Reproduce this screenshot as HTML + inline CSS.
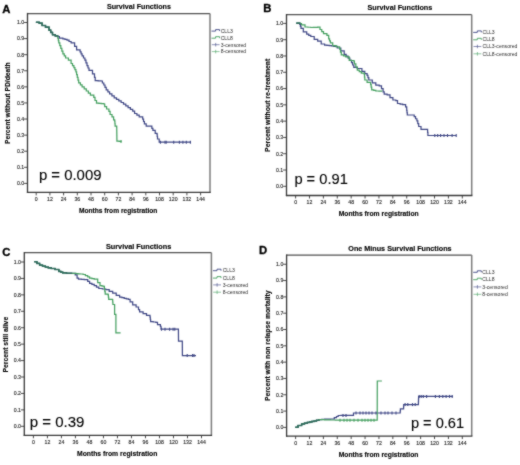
<!DOCTYPE html>
<html><head><meta charset="utf-8"><style>
html,body{margin:0;padding:0;background:#fff;}
svg{display:block;}
.wrap{width:520px;height:465px;}
text{font-family:"Liberation Sans", sans-serif;}
</style></head><body><div class="wrap">
<svg width="520" height="465" viewBox="0 0 520 465">
<defs><filter id="soft" x="0" y="0" width="520" height="465" filterUnits="userSpaceOnUse" color-interpolation-filters="sRGB"><feConvolveMatrix order="3" kernelMatrix="1 2 1 2 16 2 1 2 1" divisor="28" edgeMode="duplicate"/></filter></defs>
<g filter="url(#soft)">
<rect width="520" height="465" fill="#fff"/>
<line x1="27.5" y1="13.5" x2="210" y2="13.5" stroke="#505050" stroke-width="1.25"/>
<line x1="210" y1="13.5" x2="210" y2="192.4" stroke="#7c7c7c" stroke-width="1.5"/>
<line x1="27.5" y1="12.9" x2="27.5" y2="193" stroke="#383838" stroke-width="1.3"/>
<line x1="26.9" y1="192.4" x2="210.7" y2="192.4" stroke="#383838" stroke-width="1.3"/>
<line x1="24.1" y1="183.4" x2="27.5" y2="183.4" stroke="#383838" stroke-width="0.9"/>
<text x="24.2" y="185.3" font-size="5.2" text-anchor="end" fill="#222" stroke="#222" stroke-width="0.12">0.0</text>
<line x1="24.1" y1="167.31" x2="27.5" y2="167.31" stroke="#383838" stroke-width="0.9"/>
<text x="24.2" y="169.21" font-size="5.2" text-anchor="end" fill="#222" stroke="#222" stroke-width="0.12">0.1</text>
<line x1="24.1" y1="151.22" x2="27.5" y2="151.22" stroke="#383838" stroke-width="0.9"/>
<text x="24.2" y="153.12" font-size="5.2" text-anchor="end" fill="#222" stroke="#222" stroke-width="0.12">0.2</text>
<line x1="24.1" y1="135.13" x2="27.5" y2="135.13" stroke="#383838" stroke-width="0.9"/>
<text x="24.2" y="137.03" font-size="5.2" text-anchor="end" fill="#222" stroke="#222" stroke-width="0.12">0.3</text>
<line x1="24.1" y1="119.04" x2="27.5" y2="119.04" stroke="#383838" stroke-width="0.9"/>
<text x="24.2" y="120.94" font-size="5.2" text-anchor="end" fill="#222" stroke="#222" stroke-width="0.12">0.4</text>
<line x1="24.1" y1="102.95" x2="27.5" y2="102.95" stroke="#383838" stroke-width="0.9"/>
<text x="24.2" y="104.85" font-size="5.2" text-anchor="end" fill="#222" stroke="#222" stroke-width="0.12">0.5</text>
<line x1="24.1" y1="86.86" x2="27.5" y2="86.86" stroke="#383838" stroke-width="0.9"/>
<text x="24.2" y="88.76" font-size="5.2" text-anchor="end" fill="#222" stroke="#222" stroke-width="0.12">0.6</text>
<line x1="24.1" y1="70.77" x2="27.5" y2="70.77" stroke="#383838" stroke-width="0.9"/>
<text x="24.2" y="72.67" font-size="5.2" text-anchor="end" fill="#222" stroke="#222" stroke-width="0.12">0.7</text>
<line x1="24.1" y1="54.68" x2="27.5" y2="54.68" stroke="#383838" stroke-width="0.9"/>
<text x="24.2" y="56.58" font-size="5.2" text-anchor="end" fill="#222" stroke="#222" stroke-width="0.12">0.8</text>
<line x1="24.1" y1="38.59" x2="27.5" y2="38.59" stroke="#383838" stroke-width="0.9"/>
<text x="24.2" y="40.49" font-size="5.2" text-anchor="end" fill="#222" stroke="#222" stroke-width="0.12">0.9</text>
<line x1="24.1" y1="22.5" x2="27.5" y2="22.5" stroke="#383838" stroke-width="0.9"/>
<text x="24.2" y="24.4" font-size="5.2" text-anchor="end" fill="#222" stroke="#222" stroke-width="0.12">1.0</text>
<line x1="36.2" y1="192.4" x2="36.2" y2="195.4" stroke="#383838" stroke-width="0.9"/>
<text x="36.2" y="200.7" font-size="5.2" text-anchor="middle" fill="#222" stroke="#222" stroke-width="0.12">0</text>
<line x1="49.9" y1="192.4" x2="49.9" y2="195.4" stroke="#383838" stroke-width="0.9"/>
<text x="49.9" y="200.7" font-size="5.2" text-anchor="middle" fill="#222" stroke="#222" stroke-width="0.12">12</text>
<line x1="63.6" y1="192.4" x2="63.6" y2="195.4" stroke="#383838" stroke-width="0.9"/>
<text x="63.6" y="200.7" font-size="5.2" text-anchor="middle" fill="#222" stroke="#222" stroke-width="0.12">24</text>
<line x1="77.3" y1="192.4" x2="77.3" y2="195.4" stroke="#383838" stroke-width="0.9"/>
<text x="77.3" y="200.7" font-size="5.2" text-anchor="middle" fill="#222" stroke="#222" stroke-width="0.12">36</text>
<line x1="91" y1="192.4" x2="91" y2="195.4" stroke="#383838" stroke-width="0.9"/>
<text x="91" y="200.7" font-size="5.2" text-anchor="middle" fill="#222" stroke="#222" stroke-width="0.12">48</text>
<line x1="104.7" y1="192.4" x2="104.7" y2="195.4" stroke="#383838" stroke-width="0.9"/>
<text x="104.7" y="200.7" font-size="5.2" text-anchor="middle" fill="#222" stroke="#222" stroke-width="0.12">60</text>
<line x1="118.4" y1="192.4" x2="118.4" y2="195.4" stroke="#383838" stroke-width="0.9"/>
<text x="118.4" y="200.7" font-size="5.2" text-anchor="middle" fill="#222" stroke="#222" stroke-width="0.12">72</text>
<line x1="132.1" y1="192.4" x2="132.1" y2="195.4" stroke="#383838" stroke-width="0.9"/>
<text x="132.1" y="200.7" font-size="5.2" text-anchor="middle" fill="#222" stroke="#222" stroke-width="0.12">84</text>
<line x1="145.8" y1="192.4" x2="145.8" y2="195.4" stroke="#383838" stroke-width="0.9"/>
<text x="145.8" y="200.7" font-size="5.2" text-anchor="middle" fill="#222" stroke="#222" stroke-width="0.12">96</text>
<line x1="159.5" y1="192.4" x2="159.5" y2="195.4" stroke="#383838" stroke-width="0.9"/>
<text x="159.5" y="200.7" font-size="5.2" text-anchor="middle" fill="#222" stroke="#222" stroke-width="0.12">108</text>
<line x1="173.2" y1="192.4" x2="173.2" y2="195.4" stroke="#383838" stroke-width="0.9"/>
<text x="173.2" y="200.7" font-size="5.2" text-anchor="middle" fill="#222" stroke="#222" stroke-width="0.12">120</text>
<line x1="186.9" y1="192.4" x2="186.9" y2="195.4" stroke="#383838" stroke-width="0.9"/>
<text x="186.9" y="200.7" font-size="5.2" text-anchor="middle" fill="#222" stroke="#222" stroke-width="0.12">132</text>
<line x1="200.6" y1="192.4" x2="200.6" y2="195.4" stroke="#383838" stroke-width="0.9"/>
<text x="200.6" y="200.7" font-size="5.2" text-anchor="middle" fill="#222" stroke="#222" stroke-width="0.12">144</text>
<text x="2.2" y="12.5" font-size="11.3" font-weight="bold" fill="#000" stroke="#000" stroke-width="0.3">A</text>
<text x="106.9" y="9" font-size="7" font-weight="bold" fill="#000" stroke="#000" stroke-width="0.12" textLength="64" lengthAdjust="spacingAndGlyphs">Survival Functions</text>
<text transform="translate(10.4 144) rotate(-90)" font-size="6.8" font-weight="bold" fill="#000" stroke="#000" stroke-width="0.12" textLength="81.6" lengthAdjust="spacingAndGlyphs">Percent without PD/death</text>
<text x="78.9" y="212.7" font-size="6.8" font-weight="bold" fill="#000" stroke="#000" stroke-width="0.12" textLength="78.5" lengthAdjust="spacingAndGlyphs">Months from registration</text>
<text x="38.9" y="180" font-size="15" fill="#000" stroke="#000" stroke-width="0.12" textLength="62.6" lengthAdjust="spacingAndGlyphs">p = 0.009</text>
<path d="M211.5 31.1 H215.6 V29.6 H219.6 V31.1" fill="none" stroke="#3f4785" stroke-width="0.9"/>
<text x="220.7" y="32.5" font-size="5.1" fill="#2a2a2a">CLL3</text>
<path d="M211.5 38.2 H215.6 V36.7 H219.6 V38.2" fill="none" stroke="#45a060" stroke-width="0.9"/>
<text x="220.7" y="39.6" font-size="5.1" fill="#2a2a2a">CLL8</text>
<line x1="211.8" y1="44.7" x2="219.6" y2="44.7" stroke="#3f4785" stroke-width="0.6"/>
<line x1="215.7" y1="42.9" x2="215.7" y2="46.5" stroke="#3f4785" stroke-width="0.6"/>
<text x="220.7" y="46.5" font-size="5.1" fill="#2a2a2a">3-censored</text>
<line x1="211.8" y1="51.6" x2="219.6" y2="51.6" stroke="#45a060" stroke-width="0.6"/>
<line x1="215.7" y1="49.8" x2="215.7" y2="53.4" stroke="#45a060" stroke-width="0.6"/>
<text x="220.7" y="53.4" font-size="5.1" fill="#2a2a2a">8-censored</text>
<path d="M35.9 22.3 L39.2 22.3 L39.2 23.2 L42.1 23.2 L42.1 25.5 L45.5 25.5 L45.5 27.2 L49 27.2 L49 30.1 L50.7 30.1 L50.7 32.4 L52.5 32.4 L52.5 34.7 L55.3 34.7 L55.3 35.9 L57.7 35.9 L57.7 36.6 L59.4 36.6 L59.4 38.2 L62.9 38.2 L62.9 38.8 L64.95 38.8 L64.95 39.45 L67 39.45 L67 40.1 L69.05 40.1 L69.05 41.5 L71.1 41.5 L71.1 42.9 L74.6 42.9 L74.6 46.3 L76.6 46.3 L76.6 49.8 L80.1 49.8 L80.1 51.8 L81.1 51.8 L81.1 53.85 L82.1 53.85 L82.1 55.9 L83.5 55.9 L83.5 58 L84.9 58 L84.9 60.1 L85.95 60.1 L85.95 62.85 L87 62.85 L87 65.6 L88 65.6 L88 68 L89 68 L89 70.4 L92.5 70.4 L92.5 73.8 L94.5 73.8 L94.5 77.3 L95.2 77.3 L95.2 80.7 L98.1 80.7 L98.1 80.85 L101 80.85 L101 81 L102.4 81 L102.4 83 L103.8 83 L103.8 85 L105 85 L105 87.4 L106.2 87.4 L106.2 89.8 L107.9 89.8 L107.9 91.8 L109.6 91.8 L109.6 93.8 L111.9 93.8 L111.9 95.85 L114.2 95.85 L114.2 97.9 L116.5 97.9 L116.5 99.35 L118.8 99.35 L118.8 100.8 L121.15 100.8 L121.15 102.5 L123.5 102.5 L123.5 104.2 L125.8 104.2 L125.8 105.95 L128.1 105.95 L128.1 107.7 L130.4 107.7 L130.4 109.45 L132.7 109.45 L132.7 111.2 L134.6 111.2 L134.6 113.5 L136.9 113.5 L136.9 115.2 L139.2 115.2 L139.2 116.9 L142.7 116.9 L142.7 119.2 L143.55 119.2 L143.55 121.5 L144.4 121.5 L144.4 123.8 L146.2 123.8 L146.2 126.2 L150.8 126.2 L151.85 126.2 L151.85 128.3 L152.9 128.3 L152.9 130.4 L155.2 130.4 L155.2 133.3 L156.9 133.3 L156.9 133.8 L157.2 133.8 L157.2 136.4 L157.5 136.4 L157.5 139 L159.2 139 L159.2 142.2 L191 142.2" fill="none" stroke="#3f4785" stroke-width="1.22" stroke-linejoin="miter"/>
<path d="M35.9 22.3 L39.2 22.3 L39.2 23.2 L42.1 23.2 L42.1 25.5 L45.5 25.5 L45.5 27.2 L49 27.2 L49 30.1 L50.7 30.1 L50.7 32.4 L52.5 32.4 L52.5 34.7 L55.3 34.7 L55.3 35.9 L57.7 35.9 L57.7 36.6 L57.9 36.6 L57.9 38.5 L58.35 38.5 L58.35 40.7 L58.8 40.7 L58.8 42.9 L59.8 42.9 L59.8 45.65 L60.8 45.65 L60.8 48.4 L61.85 48.4 L61.85 51.15 L62.9 51.15 L62.9 53.9 L64.25 53.9 L64.25 55.95 L65.6 55.95 L65.6 58 L68.4 58 L68.4 60.1 L71.1 60.1 L71.1 63.5 L72.5 63.5 L72.5 65.55 L73.9 65.55 L73.9 67.6 L74.9 67.6 L74.9 69.7 L75.9 69.7 L75.9 71.8 L76.6 71.8 L76.6 74.55 L77.3 74.55 L77.3 77.3 L78 77.3 L78 80.05 L78.7 80.05 L78.7 82.8 L80.4 82.8 L80.4 84.85 L82.1 84.85 L82.1 86.9 L84.2 86.9 L84.2 88.95 L86.3 88.95 L86.3 91 L88.35 91 L88.35 93.05 L90.4 93.05 L90.4 95.1 L93.8 95.1 L93.8 97.4 L95 97.4 L95 100.5 L96.5 100.5 L96.5 103.2 L98.85 103.2 L98.85 103.4 L101.2 103.4 L101.2 103.6 L103.9 103.6 L103.9 104 L104.7 104 L104.7 106.7 L106.6 106.7 L106.6 109 L108.9 109 L108.9 111.4 L110.1 111.4 L110.1 114.5 L112 114.5 L112 116.8 L113.6 116.8 L113.6 119.9 L114.7 119.9 L114.7 121.1 L114.9 121.1 L114.9 123.6 L115.1 123.6 L115.1 126.1 L116.7 126.1 L116.7 127.3 L116.74 127.3 L116.74 130.08 L116.78 130.08 L116.78 132.86 L116.82 132.86 L116.82 135.64 L116.86 135.64 L116.86 138.42 L116.9 138.42 L116.9 141.2 L119.1 141.2 L119.1 141.3 L121.3 141.3 L121.3 141.4" fill="none" stroke="#45a060" stroke-width="1.22" stroke-linejoin="miter"/>
<path d="M35.9 22.3 L39.2 22.3 L39.2 23.2 L42.1 23.2 L42.1 25.5 L45.5 25.5 L45.5 27.2 L49 27.2 L49 30.1 L50.7 30.1 L50.7 32.4 L52.5 32.4 L52.5 34.7 L55.3 34.7 L55.3 35.9 L57.7 35.9 L57.7 36.6" fill="none" stroke="#2f6a5c" stroke-width="1.45" stroke-linejoin="miter"/>
<line x1="160.4" y1="140.7" x2="160.4" y2="143.7" stroke="#3f4785" stroke-width="1.1"/>
<line x1="165" y1="140.7" x2="165" y2="143.7" stroke="#3f4785" stroke-width="1.1"/>
<line x1="166.2" y1="140.7" x2="166.2" y2="143.7" stroke="#3f4785" stroke-width="1.1"/>
<line x1="173.7" y1="140.7" x2="173.7" y2="143.7" stroke="#3f4785" stroke-width="1.1"/>
<line x1="179.4" y1="140.7" x2="179.4" y2="143.7" stroke="#3f4785" stroke-width="1.1"/>
<line x1="182.9" y1="140.7" x2="182.9" y2="143.7" stroke="#3f4785" stroke-width="1.1"/>
<line x1="186.3" y1="140.7" x2="186.3" y2="143.7" stroke="#3f4785" stroke-width="1.1"/>
<line x1="190.4" y1="140.7" x2="190.4" y2="143.7" stroke="#3f4785" stroke-width="1.1"/>
<line x1="121" y1="139.9" x2="121" y2="142.9" stroke="#45a060" stroke-width="1.1"/>
<line x1="286.5" y1="14.6" x2="471.7" y2="14.6" stroke="#505050" stroke-width="1.25"/>
<line x1="471.7" y1="14.6" x2="471.7" y2="195.5" stroke="#7c7c7c" stroke-width="1.5"/>
<line x1="286.5" y1="14" x2="286.5" y2="196.1" stroke="#383838" stroke-width="1.3"/>
<line x1="285.9" y1="195.5" x2="472.4" y2="195.5" stroke="#383838" stroke-width="1.3"/>
<line x1="283.1" y1="186.3" x2="286.5" y2="186.3" stroke="#383838" stroke-width="0.9"/>
<text x="283.2" y="188.2" font-size="5.2" text-anchor="end" fill="#222" stroke="#222" stroke-width="0.12">0.0</text>
<line x1="283.1" y1="170.01" x2="286.5" y2="170.01" stroke="#383838" stroke-width="0.9"/>
<text x="283.2" y="171.91" font-size="5.2" text-anchor="end" fill="#222" stroke="#222" stroke-width="0.12">0.1</text>
<line x1="283.1" y1="153.72" x2="286.5" y2="153.72" stroke="#383838" stroke-width="0.9"/>
<text x="283.2" y="155.62" font-size="5.2" text-anchor="end" fill="#222" stroke="#222" stroke-width="0.12">0.2</text>
<line x1="283.1" y1="137.43" x2="286.5" y2="137.43" stroke="#383838" stroke-width="0.9"/>
<text x="283.2" y="139.33" font-size="5.2" text-anchor="end" fill="#222" stroke="#222" stroke-width="0.12">0.3</text>
<line x1="283.1" y1="121.14" x2="286.5" y2="121.14" stroke="#383838" stroke-width="0.9"/>
<text x="283.2" y="123.04" font-size="5.2" text-anchor="end" fill="#222" stroke="#222" stroke-width="0.12">0.4</text>
<line x1="283.1" y1="104.85" x2="286.5" y2="104.85" stroke="#383838" stroke-width="0.9"/>
<text x="283.2" y="106.75" font-size="5.2" text-anchor="end" fill="#222" stroke="#222" stroke-width="0.12">0.5</text>
<line x1="283.1" y1="88.56" x2="286.5" y2="88.56" stroke="#383838" stroke-width="0.9"/>
<text x="283.2" y="90.46" font-size="5.2" text-anchor="end" fill="#222" stroke="#222" stroke-width="0.12">0.6</text>
<line x1="283.1" y1="72.27" x2="286.5" y2="72.27" stroke="#383838" stroke-width="0.9"/>
<text x="283.2" y="74.17" font-size="5.2" text-anchor="end" fill="#222" stroke="#222" stroke-width="0.12">0.7</text>
<line x1="283.1" y1="55.98" x2="286.5" y2="55.98" stroke="#383838" stroke-width="0.9"/>
<text x="283.2" y="57.88" font-size="5.2" text-anchor="end" fill="#222" stroke="#222" stroke-width="0.12">0.8</text>
<line x1="283.1" y1="39.69" x2="286.5" y2="39.69" stroke="#383838" stroke-width="0.9"/>
<text x="283.2" y="41.59" font-size="5.2" text-anchor="end" fill="#222" stroke="#222" stroke-width="0.12">0.9</text>
<line x1="283.1" y1="23.4" x2="286.5" y2="23.4" stroke="#383838" stroke-width="0.9"/>
<text x="283.2" y="25.3" font-size="5.2" text-anchor="end" fill="#222" stroke="#222" stroke-width="0.12">1.0</text>
<line x1="295.6" y1="195.5" x2="295.6" y2="198.5" stroke="#383838" stroke-width="0.9"/>
<text x="295.6" y="203.8" font-size="5.2" text-anchor="middle" fill="#222" stroke="#222" stroke-width="0.12">0</text>
<line x1="309.49" y1="195.5" x2="309.49" y2="198.5" stroke="#383838" stroke-width="0.9"/>
<text x="309.49" y="203.8" font-size="5.2" text-anchor="middle" fill="#222" stroke="#222" stroke-width="0.12">12</text>
<line x1="323.38" y1="195.5" x2="323.38" y2="198.5" stroke="#383838" stroke-width="0.9"/>
<text x="323.38" y="203.8" font-size="5.2" text-anchor="middle" fill="#222" stroke="#222" stroke-width="0.12">24</text>
<line x1="337.28" y1="195.5" x2="337.28" y2="198.5" stroke="#383838" stroke-width="0.9"/>
<text x="337.28" y="203.8" font-size="5.2" text-anchor="middle" fill="#222" stroke="#222" stroke-width="0.12">36</text>
<line x1="351.17" y1="195.5" x2="351.17" y2="198.5" stroke="#383838" stroke-width="0.9"/>
<text x="351.17" y="203.8" font-size="5.2" text-anchor="middle" fill="#222" stroke="#222" stroke-width="0.12">48</text>
<line x1="365.06" y1="195.5" x2="365.06" y2="198.5" stroke="#383838" stroke-width="0.9"/>
<text x="365.06" y="203.8" font-size="5.2" text-anchor="middle" fill="#222" stroke="#222" stroke-width="0.12">60</text>
<line x1="378.95" y1="195.5" x2="378.95" y2="198.5" stroke="#383838" stroke-width="0.9"/>
<text x="378.95" y="203.8" font-size="5.2" text-anchor="middle" fill="#222" stroke="#222" stroke-width="0.12">72</text>
<line x1="392.84" y1="195.5" x2="392.84" y2="198.5" stroke="#383838" stroke-width="0.9"/>
<text x="392.84" y="203.8" font-size="5.2" text-anchor="middle" fill="#222" stroke="#222" stroke-width="0.12">84</text>
<line x1="406.73" y1="195.5" x2="406.73" y2="198.5" stroke="#383838" stroke-width="0.9"/>
<text x="406.73" y="203.8" font-size="5.2" text-anchor="middle" fill="#222" stroke="#222" stroke-width="0.12">96</text>
<line x1="420.62" y1="195.5" x2="420.62" y2="198.5" stroke="#383838" stroke-width="0.9"/>
<text x="420.62" y="203.8" font-size="5.2" text-anchor="middle" fill="#222" stroke="#222" stroke-width="0.12">108</text>
<line x1="434.52" y1="195.5" x2="434.52" y2="198.5" stroke="#383838" stroke-width="0.9"/>
<text x="434.52" y="203.8" font-size="5.2" text-anchor="middle" fill="#222" stroke="#222" stroke-width="0.12">120</text>
<line x1="448.41" y1="195.5" x2="448.41" y2="198.5" stroke="#383838" stroke-width="0.9"/>
<text x="448.41" y="203.8" font-size="5.2" text-anchor="middle" fill="#222" stroke="#222" stroke-width="0.12">132</text>
<line x1="462.3" y1="195.5" x2="462.3" y2="198.5" stroke="#383838" stroke-width="0.9"/>
<text x="462.3" y="203.8" font-size="5.2" text-anchor="middle" fill="#222" stroke="#222" stroke-width="0.12">144</text>
<text x="263.2" y="11.9" font-size="11.3" font-weight="bold" fill="#000" stroke="#000" stroke-width="0.3">B</text>
<text x="367.5" y="10.4" font-size="7" font-weight="bold" fill="#000" stroke="#000" stroke-width="0.12" textLength="64.8" lengthAdjust="spacingAndGlyphs">Survival Functions</text>
<text transform="translate(270 151.9) rotate(-90)" font-size="6.8" font-weight="bold" fill="#000" stroke="#000" stroke-width="0.12" textLength="93.2" lengthAdjust="spacingAndGlyphs">Percent without re-treatment</text>
<text x="338.7" y="215.9" font-size="6.8" font-weight="bold" fill="#000" stroke="#000" stroke-width="0.12" textLength="80" lengthAdjust="spacingAndGlyphs">Months from registration</text>
<text x="294.4" y="183.9" font-size="15" fill="#000" stroke="#000" stroke-width="0.12" textLength="53.4" lengthAdjust="spacingAndGlyphs">p = 0.91</text>
<path d="M473.2 32.4 H477.3 V30.9 H481.3 V32.4" fill="none" stroke="#3f4785" stroke-width="0.9"/>
<text x="482.5" y="33.8" font-size="5.1" fill="#2a2a2a">CLL3</text>
<path d="M473.2 39.8 H477.3 V38.3 H481.3 V39.8" fill="none" stroke="#45a060" stroke-width="0.9"/>
<text x="482.5" y="41.2" font-size="5.1" fill="#2a2a2a">CLL8</text>
<line x1="473.5" y1="46.5" x2="481.3" y2="46.5" stroke="#3f4785" stroke-width="0.6"/>
<line x1="477.4" y1="44.7" x2="477.4" y2="48.3" stroke="#3f4785" stroke-width="0.6"/>
<text x="482.5" y="48.3" font-size="5.1" fill="#2a2a2a">CLL3-censored</text>
<line x1="473.5" y1="53.8" x2="481.3" y2="53.8" stroke="#45a060" stroke-width="0.6"/>
<line x1="477.4" y1="52" x2="477.4" y2="55.6" stroke="#45a060" stroke-width="0.6"/>
<text x="482.5" y="55.6" font-size="5.1" fill="#2a2a2a">CLL8-censored</text>
<path d="M296.3 23.2 L299.8 23.2 L299.8 24.3 L300.4 24.3 L300.4 26.35 L301 26.35 L301 28.4 L303.3 28.4 L303.3 31.8 L306.7 31.8 L306.7 34.2 L308.75 34.2 L308.75 35.35 L310.8 35.35 L310.8 36.5 L314.2 36.5 L314.2 39.3 L317.7 39.3 L317.7 41.1 L321.2 41.1 L321.2 44 L324.6 44 L324.6 45.1 L326.9 45.1 L326.9 45.4 L329.2 45.4 L329.2 45.7 L331.5 45.7 L331.5 46 L333.8 46 L333.8 46.3 L337.3 46.3 L337.3 48 L340.8 48 L340.8 50.9 L344.2 50.9 L344.2 54.3 L346.15 54.3 L346.15 56.2 L348.1 56.2 L348.1 58.1 L349.8 58.1 L349.8 60.4 L351.5 60.4 L351.5 62.7 L352.65 62.7 L352.65 65 L353.8 65 L353.8 67.3 L357.3 67.3 L357.3 68.5 L360.8 68.5 L361.9 68.5 L361.9 71.3 L364.8 71.3 L364.8 73.7 L367.1 73.7 L367.1 75.4 L367.95 75.4 L367.95 77.7 L368.8 77.7 L368.8 80 L372.3 80 L372.3 82.9 L375.8 82.9 L375.8 85.2 L379.2 85.2 L379.2 85.8 L381.5 85.8 L381.5 88.7 L383.1 88.7 L383.1 91.9 L384.2 91.9 L384.2 94.2 L387.1 94.2 L387.1 94.8 L390 94.8 L390 97.7 L392.9 97.7 L392.9 100 L395.8 100 L395.8 100.6 L397.5 100.6 L397.5 103.5 L400.1 103.5 L400.1 104.05 L402.7 104.05 L402.7 104.6 L405.6 104.6 L405.6 106.9 L406.7 106.9 L406.7 110.4 L407 110.4 L407 112.7 L407.3 112.7 L407.3 115 L410.8 115 L414.2 115 L414.2 116.7 L415.55 116.7 L415.55 118.75 L416.9 118.75 L416.9 120.8 L417.8 120.8 L417.8 123.65 L418.7 123.65 L418.7 126.5 L421 126.5 L421 129.4 L427.3 129.4 L427.6 129.4 L427.6 132.45 L427.9 132.45 L427.9 135.5 L456.2 135.5" fill="none" stroke="#3f4785" stroke-width="1.22" stroke-linejoin="miter"/>
<path d="M296.3 23.2 L299.8 23.2 L299.8 23.5 L301.5 23.5 L301.5 24.9 L305 24.9 L305 27 L307.9 27 L307.9 27.25 L310.8 27.25 L310.8 27.5 L313.1 27.5 L313.1 27.4 L315.4 27.4 L315.4 27.3 L317.7 27.3 L317.7 27.2 L320 27.2 L320 29.5 L321.75 29.5 L321.75 31.55 L323.5 31.55 L323.5 33.6 L326.9 33.6 L326.9 35.3 L328.7 35.3 L328.7 38.8 L329.55 38.8 L329.55 40.8 L330.4 40.8 L330.4 42.8 L332.7 42.8 L332.7 45.7 L336.2 45.7 L336.2 46.8 L339.6 46.8 L339.6 49.2 L340.45 49.2 L340.45 52.05 L341.3 52.05 L341.3 54.9 L343.55 54.9 L343.55 55.9 L345.8 55.9 L345.8 56.9 L349.2 56.9 L349.2 60.4 L351.5 60.4 L351.5 60.7 L353.8 60.7 L353.8 61 L354.4 61 L354.4 63.8 L355.85 63.8 L355.85 67 L357.3 67 L357.3 70.2 L359.3 70.2 L359.3 71.65 L361.3 71.65 L361.3 73.1 L364.2 73.1 L364.2 74.2 L364.5 74.2 L364.5 77.1 L364.8 77.1 L364.8 80 L367.1 80 L367.1 82.3 L370.6 82.3 L370.6 84.6 L371.15 84.6 L371.15 87.2 L371.7 87.2 L371.7 89.8 L373.75 89.8 L373.75 90.4 L375.8 90.4 L375.8 91 L378.9 91 L378.9 91.15 L382 91.15 L382 91.3" fill="none" stroke="#45a060" stroke-width="1.22" stroke-linejoin="miter"/>
<path d="M296.3 23.2 L299.8 23.2 L299.8 23.4" fill="none" stroke="#2f6a5c" stroke-width="1.45" stroke-linejoin="miter"/>
<line x1="434.8" y1="134" x2="434.8" y2="137" stroke="#3f4785" stroke-width="1.1"/>
<line x1="437.7" y1="134" x2="437.7" y2="137" stroke="#3f4785" stroke-width="1.1"/>
<line x1="440.6" y1="134" x2="440.6" y2="137" stroke="#3f4785" stroke-width="1.1"/>
<line x1="444" y1="134" x2="444" y2="137" stroke="#3f4785" stroke-width="1.1"/>
<line x1="447.5" y1="134" x2="447.5" y2="137" stroke="#3f4785" stroke-width="1.1"/>
<line x1="452.1" y1="134" x2="452.1" y2="137" stroke="#3f4785" stroke-width="1.1"/>
<line x1="456.2" y1="134" x2="456.2" y2="137" stroke="#3f4785" stroke-width="1.1"/>
<line x1="24.3" y1="252.6" x2="211.4" y2="252.6" stroke="#505050" stroke-width="1.25"/>
<line x1="211.4" y1="252.6" x2="211.4" y2="435.3" stroke="#7c7c7c" stroke-width="1.5"/>
<line x1="24.3" y1="252" x2="24.3" y2="435.9" stroke="#383838" stroke-width="1.3"/>
<line x1="23.7" y1="435.3" x2="212.1" y2="435.3" stroke="#383838" stroke-width="1.3"/>
<line x1="20.9" y1="426.3" x2="24.3" y2="426.3" stroke="#383838" stroke-width="0.9"/>
<text x="21" y="428.2" font-size="5.2" text-anchor="end" fill="#222" stroke="#222" stroke-width="0.12">0.0</text>
<line x1="20.9" y1="409.87" x2="24.3" y2="409.87" stroke="#383838" stroke-width="0.9"/>
<text x="21" y="411.77" font-size="5.2" text-anchor="end" fill="#222" stroke="#222" stroke-width="0.12">0.1</text>
<line x1="20.9" y1="393.44" x2="24.3" y2="393.44" stroke="#383838" stroke-width="0.9"/>
<text x="21" y="395.34" font-size="5.2" text-anchor="end" fill="#222" stroke="#222" stroke-width="0.12">0.2</text>
<line x1="20.9" y1="377.01" x2="24.3" y2="377.01" stroke="#383838" stroke-width="0.9"/>
<text x="21" y="378.91" font-size="5.2" text-anchor="end" fill="#222" stroke="#222" stroke-width="0.12">0.3</text>
<line x1="20.9" y1="360.58" x2="24.3" y2="360.58" stroke="#383838" stroke-width="0.9"/>
<text x="21" y="362.48" font-size="5.2" text-anchor="end" fill="#222" stroke="#222" stroke-width="0.12">0.4</text>
<line x1="20.9" y1="344.15" x2="24.3" y2="344.15" stroke="#383838" stroke-width="0.9"/>
<text x="21" y="346.05" font-size="5.2" text-anchor="end" fill="#222" stroke="#222" stroke-width="0.12">0.5</text>
<line x1="20.9" y1="327.72" x2="24.3" y2="327.72" stroke="#383838" stroke-width="0.9"/>
<text x="21" y="329.62" font-size="5.2" text-anchor="end" fill="#222" stroke="#222" stroke-width="0.12">0.6</text>
<line x1="20.9" y1="311.29" x2="24.3" y2="311.29" stroke="#383838" stroke-width="0.9"/>
<text x="21" y="313.19" font-size="5.2" text-anchor="end" fill="#222" stroke="#222" stroke-width="0.12">0.7</text>
<line x1="20.9" y1="294.86" x2="24.3" y2="294.86" stroke="#383838" stroke-width="0.9"/>
<text x="21" y="296.76" font-size="5.2" text-anchor="end" fill="#222" stroke="#222" stroke-width="0.12">0.8</text>
<line x1="20.9" y1="278.43" x2="24.3" y2="278.43" stroke="#383838" stroke-width="0.9"/>
<text x="21" y="280.33" font-size="5.2" text-anchor="end" fill="#222" stroke="#222" stroke-width="0.12">0.9</text>
<line x1="20.9" y1="262" x2="24.3" y2="262" stroke="#383838" stroke-width="0.9"/>
<text x="21" y="263.9" font-size="5.2" text-anchor="end" fill="#222" stroke="#222" stroke-width="0.12">1.0</text>
<line x1="33.4" y1="435.3" x2="33.4" y2="438.3" stroke="#383838" stroke-width="0.9"/>
<text x="33.4" y="444.1" font-size="5.2" text-anchor="middle" fill="#222" stroke="#222" stroke-width="0.12">0</text>
<line x1="47.41" y1="435.3" x2="47.41" y2="438.3" stroke="#383838" stroke-width="0.9"/>
<text x="47.41" y="444.1" font-size="5.2" text-anchor="middle" fill="#222" stroke="#222" stroke-width="0.12">12</text>
<line x1="61.42" y1="435.3" x2="61.42" y2="438.3" stroke="#383838" stroke-width="0.9"/>
<text x="61.42" y="444.1" font-size="5.2" text-anchor="middle" fill="#222" stroke="#222" stroke-width="0.12">24</text>
<line x1="75.42" y1="435.3" x2="75.42" y2="438.3" stroke="#383838" stroke-width="0.9"/>
<text x="75.42" y="444.1" font-size="5.2" text-anchor="middle" fill="#222" stroke="#222" stroke-width="0.12">36</text>
<line x1="89.43" y1="435.3" x2="89.43" y2="438.3" stroke="#383838" stroke-width="0.9"/>
<text x="89.43" y="444.1" font-size="5.2" text-anchor="middle" fill="#222" stroke="#222" stroke-width="0.12">48</text>
<line x1="103.44" y1="435.3" x2="103.44" y2="438.3" stroke="#383838" stroke-width="0.9"/>
<text x="103.44" y="444.1" font-size="5.2" text-anchor="middle" fill="#222" stroke="#222" stroke-width="0.12">60</text>
<line x1="117.45" y1="435.3" x2="117.45" y2="438.3" stroke="#383838" stroke-width="0.9"/>
<text x="117.45" y="444.1" font-size="5.2" text-anchor="middle" fill="#222" stroke="#222" stroke-width="0.12">72</text>
<line x1="131.46" y1="435.3" x2="131.46" y2="438.3" stroke="#383838" stroke-width="0.9"/>
<text x="131.46" y="444.1" font-size="5.2" text-anchor="middle" fill="#222" stroke="#222" stroke-width="0.12">84</text>
<line x1="145.47" y1="435.3" x2="145.47" y2="438.3" stroke="#383838" stroke-width="0.9"/>
<text x="145.47" y="444.1" font-size="5.2" text-anchor="middle" fill="#222" stroke="#222" stroke-width="0.12">96</text>
<line x1="159.47" y1="435.3" x2="159.47" y2="438.3" stroke="#383838" stroke-width="0.9"/>
<text x="159.47" y="444.1" font-size="5.2" text-anchor="middle" fill="#222" stroke="#222" stroke-width="0.12">108</text>
<line x1="173.48" y1="435.3" x2="173.48" y2="438.3" stroke="#383838" stroke-width="0.9"/>
<text x="173.48" y="444.1" font-size="5.2" text-anchor="middle" fill="#222" stroke="#222" stroke-width="0.12">120</text>
<line x1="187.49" y1="435.3" x2="187.49" y2="438.3" stroke="#383838" stroke-width="0.9"/>
<text x="187.49" y="444.1" font-size="5.2" text-anchor="middle" fill="#222" stroke="#222" stroke-width="0.12">132</text>
<line x1="201.5" y1="435.3" x2="201.5" y2="438.3" stroke="#383838" stroke-width="0.9"/>
<text x="201.5" y="444.1" font-size="5.2" text-anchor="middle" fill="#222" stroke="#222" stroke-width="0.12">144</text>
<text x="2.3" y="255.5" font-size="11.3" font-weight="bold" fill="#000" stroke="#000" stroke-width="0.3">C</text>
<text x="105.9" y="248.7" font-size="7" font-weight="bold" fill="#000" stroke="#000" stroke-width="0.12" textLength="65.4" lengthAdjust="spacingAndGlyphs">Survival Functions</text>
<text transform="translate(7.8 372.6) rotate(-90)" font-size="6.8" font-weight="bold" fill="#000" stroke="#000" stroke-width="0.12" textLength="55.8" lengthAdjust="spacingAndGlyphs">Percent still alive</text>
<text x="77" y="456.3" font-size="6.8" font-weight="bold" fill="#000" stroke="#000" stroke-width="0.12" textLength="80.4" lengthAdjust="spacingAndGlyphs">Months from registration</text>
<text x="29.7" y="426.6" font-size="15" fill="#000" stroke="#000" stroke-width="0.12" textLength="54.7" lengthAdjust="spacingAndGlyphs">p = 0.39</text>
<path d="M212.9 270.7 H217 V269.2 H221 V270.7" fill="none" stroke="#3f4785" stroke-width="0.9"/>
<text x="222.7" y="272.1" font-size="5.1" fill="#2a2a2a">CLL3</text>
<path d="M212.9 278.1 H217 V276.6 H221 V278.1" fill="none" stroke="#45a060" stroke-width="0.9"/>
<text x="222.7" y="279.5" font-size="5.1" fill="#2a2a2a">CLL8</text>
<line x1="213.2" y1="284.9" x2="221" y2="284.9" stroke="#3f4785" stroke-width="0.6"/>
<line x1="217.1" y1="283.1" x2="217.1" y2="286.7" stroke="#3f4785" stroke-width="0.6"/>
<text x="222.7" y="286.7" font-size="5.1" fill="#2a2a2a">3-censored</text>
<line x1="213.2" y1="292.2" x2="221" y2="292.2" stroke="#45a060" stroke-width="0.6"/>
<line x1="217.1" y1="290.4" x2="217.1" y2="294" stroke="#45a060" stroke-width="0.6"/>
<text x="222.7" y="294" font-size="5.1" fill="#2a2a2a">8-censored</text>
<path d="M34.2 261.7 L36.9 261.7 L36.9 263.4 L39.6 263.4 L39.6 265.1 L42.5 265.1 L42.5 266.1 L45.4 266.1 L45.4 267.1 L48.3 267.1 L48.3 267.8 L51.2 267.8 L51.2 268.5 L55 268.5 L55 269.5 L58.8 269.5 L58.8 271.4 L60.75 271.4 L60.75 272.1 L62.7 272.1 L62.7 272.8 L66.5 272.8 L66.5 273.3 L72.3 273.3 L75.2 273.3 L75.2 274.8 L77.1 274.8 L77.1 278.1 L78.5 278.1 L78.5 279.1 L81.35 279.1 L81.35 279.4 L84.2 279.4 L84.2 279.7 L87.7 279.7 L87.7 281.4 L89.6 281.4 L89.6 283.3 L91.9 283.3 L91.9 284.45 L94.2 284.45 L94.2 285.6 L96.5 285.6 L96.5 287.05 L98.8 287.05 L98.8 288.5 L102.3 288.5 L102.3 289 L105.8 289 L105.8 289.6 L109.2 289.6 L109.2 291.3 L112.7 291.3 L112.7 293.1 L116.2 293.1 L116.2 295.4 L119.6 295.4 L119.6 297.1 L121.9 297.1 L121.9 297.7 L124.2 297.7 L124.2 298.3 L126.3 298.3 L126.3 298.8 L128.4 298.8 L128.4 299.3 L130.1 299.3 L130.1 301.9 L132.7 301.9 L132.7 304.9 L136.1 304.9 L136.1 307 L138.5 307 L138.5 309.6 L139.6 309.6 L139.6 311.9 L143.1 311.9 L143.1 313.7 L146.5 313.7 L146.5 315.4 L150 315.4 L150 317.1 L150.3 317.1 L150.3 319.4 L150.6 319.4 L150.6 321.7 L153.2 321.7 L153.2 322 L155.8 322 L155.8 322.3 L157.5 322.3 L157.5 324.6 L160.4 324.6 L160.4 326.3 L161 326.3 L161 329.2 L178.4 329.2 L178.42 329.2 L178.42 331.6 L178.44 331.6 L178.44 334 L178.46 334 L178.46 336.4 L178.48 336.4 L178.48 338.8 L178.5 338.8 L178.5 341.2 L182.3 341.2 L182.3 341.4 L182.32 341.4 L182.32 344.24 L182.34 344.24 L182.34 347.08 L182.36 347.08 L182.36 349.92 L182.38 349.92 L182.38 352.76 L182.4 352.76 L182.4 355.6 L196 355.6" fill="none" stroke="#3f4785" stroke-width="1.22" stroke-linejoin="miter"/>
<path d="M34.2 261.7 L36.9 261.7 L36.9 263.4 L39.6 263.4 L39.6 265.1 L42.5 265.1 L42.5 266.1 L45.4 266.1 L45.4 267.1 L48.3 267.1 L48.3 267.8 L51.2 267.8 L51.2 268.5 L55 268.5 L55 269.5 L58.8 269.5 L58.8 271.4 L60.75 271.4 L60.75 272.1 L62.7 272.1 L62.7 272.8 L66.5 272.8 L66.5 273.3 L72.3 273.3 L76 273.3 L76 273.6 L78 273.6 L78 273.8 L80 273.8 L80 274 L83.1 274 L83.1 274.5 L85.4 274.5 L85.4 275.65 L87.7 275.65 L87.7 276.8 L89.6 276.8 L89.6 278.1 L91.9 278.1 L91.9 278.65 L94.2 278.65 L94.2 279.2 L97.7 279.2 L97.7 282.7 L100 282.7 L100 285.6 L102 285.6 L102 286.15 L104 286.15 L104 286.7 L104.4 286.7 L104.4 289.2 L104.8 289.2 L104.8 291.7 L105.2 291.7 L105.2 294.2 L108.1 294.2 L108.1 294.8 L108.4 294.8 L108.4 297.1 L108.7 297.1 L108.7 299.4 L112.5 299.4 L112.5 299.7 L112.7 299.7 L112.7 302.1 L112.9 302.1 L112.9 304.5 L114.6 304.5 L114.6 306.2 L114.6 314.4 L115.9 314.4 L115.9 315.2 L115.9 332.8 L120.6 332.8" fill="none" stroke="#45a060" stroke-width="1.22" stroke-linejoin="miter"/>
<path d="M34.2 261.7 L36.9 261.7 L36.9 263.4 L39.6 263.4 L39.6 265.1 L42.5 265.1 L42.5 266.1 L45.4 266.1 L45.4 267.1 L48.3 267.1 L48.3 267.8 L51.2 267.8 L51.2 268.5 L55 268.5 L55 269.5 L58.8 269.5 L58.8 271.4 L60.75 271.4 L60.75 272.1 L62.7 272.1 L62.7 272.8 L66.5 272.8 L66.5 273.3 L72.3 273.3" fill="none" stroke="#2f6a5c" stroke-width="1.45" stroke-linejoin="miter"/>
<line x1="161.5" y1="327.7" x2="161.5" y2="330.7" stroke="#3f4785" stroke-width="1.1"/>
<line x1="165" y1="327.7" x2="165" y2="330.7" stroke="#3f4785" stroke-width="1.1"/>
<line x1="169.6" y1="327.7" x2="169.6" y2="330.7" stroke="#3f4785" stroke-width="1.1"/>
<line x1="173.1" y1="327.7" x2="173.1" y2="330.7" stroke="#3f4785" stroke-width="1.1"/>
<line x1="174.8" y1="327.7" x2="174.8" y2="330.7" stroke="#3f4785" stroke-width="1.1"/>
<line x1="187.2" y1="354.1" x2="187.2" y2="357.1" stroke="#3f4785" stroke-width="1.1"/>
<line x1="192.6" y1="354.1" x2="192.6" y2="357.1" stroke="#3f4785" stroke-width="1.1"/>
<line x1="194" y1="354.1" x2="194" y2="357.1" stroke="#3f4785" stroke-width="1.1"/>
<line x1="286.6" y1="255" x2="471.7" y2="255" stroke="#505050" stroke-width="1.25"/>
<line x1="471.7" y1="255" x2="471.7" y2="436.1" stroke="#7c7c7c" stroke-width="1.5"/>
<line x1="286.6" y1="254.4" x2="286.6" y2="436.7" stroke="#383838" stroke-width="1.3"/>
<line x1="286" y1="436.1" x2="472.4" y2="436.1" stroke="#383838" stroke-width="1.3"/>
<line x1="283.2" y1="427.4" x2="286.6" y2="427.4" stroke="#383838" stroke-width="0.9"/>
<text x="283.3" y="429.3" font-size="5.2" text-anchor="end" fill="#222" stroke="#222" stroke-width="0.12">0.0</text>
<line x1="283.2" y1="411.08" x2="286.6" y2="411.08" stroke="#383838" stroke-width="0.9"/>
<text x="283.3" y="412.98" font-size="5.2" text-anchor="end" fill="#222" stroke="#222" stroke-width="0.12">0.1</text>
<line x1="283.2" y1="394.77" x2="286.6" y2="394.77" stroke="#383838" stroke-width="0.9"/>
<text x="283.3" y="396.67" font-size="5.2" text-anchor="end" fill="#222" stroke="#222" stroke-width="0.12">0.2</text>
<line x1="283.2" y1="378.45" x2="286.6" y2="378.45" stroke="#383838" stroke-width="0.9"/>
<text x="283.3" y="380.35" font-size="5.2" text-anchor="end" fill="#222" stroke="#222" stroke-width="0.12">0.3</text>
<line x1="283.2" y1="362.14" x2="286.6" y2="362.14" stroke="#383838" stroke-width="0.9"/>
<text x="283.3" y="364.04" font-size="5.2" text-anchor="end" fill="#222" stroke="#222" stroke-width="0.12">0.4</text>
<line x1="283.2" y1="345.82" x2="286.6" y2="345.82" stroke="#383838" stroke-width="0.9"/>
<text x="283.3" y="347.72" font-size="5.2" text-anchor="end" fill="#222" stroke="#222" stroke-width="0.12">0.5</text>
<line x1="283.2" y1="329.51" x2="286.6" y2="329.51" stroke="#383838" stroke-width="0.9"/>
<text x="283.3" y="331.41" font-size="5.2" text-anchor="end" fill="#222" stroke="#222" stroke-width="0.12">0.6</text>
<line x1="283.2" y1="313.19" x2="286.6" y2="313.19" stroke="#383838" stroke-width="0.9"/>
<text x="283.3" y="315.09" font-size="5.2" text-anchor="end" fill="#222" stroke="#222" stroke-width="0.12">0.7</text>
<line x1="283.2" y1="296.88" x2="286.6" y2="296.88" stroke="#383838" stroke-width="0.9"/>
<text x="283.3" y="298.78" font-size="5.2" text-anchor="end" fill="#222" stroke="#222" stroke-width="0.12">0.8</text>
<line x1="283.2" y1="280.56" x2="286.6" y2="280.56" stroke="#383838" stroke-width="0.9"/>
<text x="283.3" y="282.46" font-size="5.2" text-anchor="end" fill="#222" stroke="#222" stroke-width="0.12">0.9</text>
<line x1="283.2" y1="264.25" x2="286.6" y2="264.25" stroke="#383838" stroke-width="0.9"/>
<text x="283.3" y="266.15" font-size="5.2" text-anchor="end" fill="#222" stroke="#222" stroke-width="0.12">1.0</text>
<line x1="295.6" y1="436.1" x2="295.6" y2="439.1" stroke="#383838" stroke-width="0.9"/>
<text x="295.6" y="445" font-size="5.2" text-anchor="middle" fill="#222" stroke="#222" stroke-width="0.12">0</text>
<line x1="309.49" y1="436.1" x2="309.49" y2="439.1" stroke="#383838" stroke-width="0.9"/>
<text x="309.49" y="445" font-size="5.2" text-anchor="middle" fill="#222" stroke="#222" stroke-width="0.12">12</text>
<line x1="323.38" y1="436.1" x2="323.38" y2="439.1" stroke="#383838" stroke-width="0.9"/>
<text x="323.38" y="445" font-size="5.2" text-anchor="middle" fill="#222" stroke="#222" stroke-width="0.12">24</text>
<line x1="337.28" y1="436.1" x2="337.28" y2="439.1" stroke="#383838" stroke-width="0.9"/>
<text x="337.28" y="445" font-size="5.2" text-anchor="middle" fill="#222" stroke="#222" stroke-width="0.12">36</text>
<line x1="351.17" y1="436.1" x2="351.17" y2="439.1" stroke="#383838" stroke-width="0.9"/>
<text x="351.17" y="445" font-size="5.2" text-anchor="middle" fill="#222" stroke="#222" stroke-width="0.12">48</text>
<line x1="365.06" y1="436.1" x2="365.06" y2="439.1" stroke="#383838" stroke-width="0.9"/>
<text x="365.06" y="445" font-size="5.2" text-anchor="middle" fill="#222" stroke="#222" stroke-width="0.12">60</text>
<line x1="378.95" y1="436.1" x2="378.95" y2="439.1" stroke="#383838" stroke-width="0.9"/>
<text x="378.95" y="445" font-size="5.2" text-anchor="middle" fill="#222" stroke="#222" stroke-width="0.12">72</text>
<line x1="392.84" y1="436.1" x2="392.84" y2="439.1" stroke="#383838" stroke-width="0.9"/>
<text x="392.84" y="445" font-size="5.2" text-anchor="middle" fill="#222" stroke="#222" stroke-width="0.12">84</text>
<line x1="406.73" y1="436.1" x2="406.73" y2="439.1" stroke="#383838" stroke-width="0.9"/>
<text x="406.73" y="445" font-size="5.2" text-anchor="middle" fill="#222" stroke="#222" stroke-width="0.12">96</text>
<line x1="420.62" y1="436.1" x2="420.62" y2="439.1" stroke="#383838" stroke-width="0.9"/>
<text x="420.62" y="445" font-size="5.2" text-anchor="middle" fill="#222" stroke="#222" stroke-width="0.12">108</text>
<line x1="434.52" y1="436.1" x2="434.52" y2="439.1" stroke="#383838" stroke-width="0.9"/>
<text x="434.52" y="445" font-size="5.2" text-anchor="middle" fill="#222" stroke="#222" stroke-width="0.12">120</text>
<line x1="448.41" y1="436.1" x2="448.41" y2="439.1" stroke="#383838" stroke-width="0.9"/>
<text x="448.41" y="445" font-size="5.2" text-anchor="middle" fill="#222" stroke="#222" stroke-width="0.12">132</text>
<line x1="462.3" y1="436.1" x2="462.3" y2="439.1" stroke="#383838" stroke-width="0.9"/>
<text x="462.3" y="445" font-size="5.2" text-anchor="middle" fill="#222" stroke="#222" stroke-width="0.12">144</text>
<text x="259" y="254.1" font-size="11.3" font-weight="bold" fill="#000" stroke="#000" stroke-width="0.3">D</text>
<text x="348.3" y="250.7" font-size="7" font-weight="bold" fill="#000" stroke="#000" stroke-width="0.12" textLength="103.3" lengthAdjust="spacingAndGlyphs">One Minus Survival Functions</text>
<text transform="translate(270 401.1) rotate(-90)" font-size="6.8" font-weight="bold" fill="#000" stroke="#000" stroke-width="0.12" textLength="110.6" lengthAdjust="spacingAndGlyphs">Percent with non relapse mortality</text>
<text x="338.7" y="456.6" font-size="6.8" font-weight="bold" fill="#000" stroke="#000" stroke-width="0.12" textLength="79.8" lengthAdjust="spacingAndGlyphs">Months from registration</text>
<text x="410.9" y="428.3" font-size="15" fill="#000" stroke="#000" stroke-width="0.12" textLength="53.2" lengthAdjust="spacingAndGlyphs">p = 0.61</text>
<path d="M473.2 272.3 H477.3 V270.8 H481.3 V272.3" fill="none" stroke="#3f4785" stroke-width="0.9"/>
<text x="482.3" y="273.7" font-size="5.1" fill="#2a2a2a">CLL3</text>
<path d="M473.2 279.7 H477.3 V278.2 H481.3 V279.7" fill="none" stroke="#45a060" stroke-width="0.9"/>
<text x="482.3" y="281.1" font-size="5.1" fill="#2a2a2a">CLL8</text>
<line x1="473.5" y1="286.9" x2="481.3" y2="286.9" stroke="#3f4785" stroke-width="0.6"/>
<line x1="477.4" y1="285.1" x2="477.4" y2="288.7" stroke="#3f4785" stroke-width="0.6"/>
<text x="482.3" y="288.7" font-size="5.1" fill="#2a2a2a">3-censored</text>
<line x1="473.5" y1="294.3" x2="481.3" y2="294.3" stroke="#45a060" stroke-width="0.6"/>
<line x1="477.4" y1="292.5" x2="477.4" y2="296.1" stroke="#45a060" stroke-width="0.6"/>
<text x="482.3" y="296.1" font-size="5.1" fill="#2a2a2a">8-censored</text>
<path d="M295.2 427.3 L298 427.3 L298 425.5 L301.6 425.5 L301.6 423.9 L304.5 423.9 L304.5 423.15 L307.4 423.15 L307.4 422.4 L309.63 422.4 L309.63 421.93 L311.87 421.93 L311.87 421.47 L314.1 421.47 L314.1 421 L316.5 421 L316.5 420.3 L318.9 420.3 L318.9 419.6 L321.8 419.6 L321.8 419.4 L324.7 419.4 L324.7 419.2 L327.6 419.2 L327.6 419.1 L330.5 419.1 L330.5 419 L334.3 419 L334.3 417.6 L336.5 417.6 L336.5 416.5 L338.2 416.5 L338.2 415.5 L341.04 415.5 L341.04 415.46 L343.88 415.46 L343.88 415.42 L346.72 415.42 L346.72 415.38 L349.56 415.38 L349.56 415.34 L352.4 415.34 L352.4 415.3 L353.5 415.3 L353.5 413 L400 413 L400.2 413 L400.2 410.95 L400.4 410.95 L400.4 408.9 L403.5 408.9 L403.6 408.9 L403.6 406.75 L403.7 406.75 L403.7 404.6 L418.3 404.6 L418.4 404.6 L418.4 401.87 L418.5 401.87 L418.5 399.13 L418.6 399.13 L418.6 396.4 L452.9 396.4" fill="none" stroke="#3f4785" stroke-width="1.22" stroke-linejoin="miter"/>
<path d="M295.2 427.3 L298 427.3 L298 425.5 L301.6 425.5 L301.6 423.9 L304.5 423.9 L304.5 423.15 L307.4 423.15 L307.4 422.4 L309.63 422.4 L309.63 421.93 L311.87 421.93 L311.87 421.47 L314.1 421.47 L314.1 421 L316.5 421 L316.5 420.3 L318.9 420.3 L318.9 419.6 L321.67 419.6 L321.67 419.7 L324.45 419.7 L324.45 419.8 L327.23 419.8 L327.23 419.9 L330 419.9 L330 420 L332.62 420 L332.62 420.01 L335.24 420.01 L335.24 420.02 L337.87 420.02 L337.87 420.03 L340.49 420.03 L340.49 420.04 L343.11 420.04 L343.11 420.06 L345.73 420.06 L345.73 420.07 L348.36 420.07 L348.36 420.08 L350.98 420.08 L350.98 420.09 L353.6 420.09 L353.6 420.1 L356.22 420.1 L356.22 420.11 L358.84 420.11 L358.84 420.12 L361.47 420.12 L361.47 420.13 L364.09 420.13 L364.09 420.14 L366.71 420.14 L366.71 420.16 L369.33 420.16 L369.33 420.17 L371.96 420.17 L371.96 420.18 L374.58 420.18 L374.58 420.19 L377.2 420.19 L377.2 420.2 L377.21 420.2 L377.21 417.59 L377.21 417.59 L377.21 414.97 L377.22 414.97 L377.22 412.36 L377.23 412.36 L377.23 409.75 L377.23 409.75 L377.23 407.13 L377.24 407.13 L377.24 404.52 L377.25 404.52 L377.25 401.91 L377.25 401.91 L377.25 399.29 L377.26 399.29 L377.26 396.68 L377.27 396.68 L377.27 394.07 L377.27 394.07 L377.27 391.45 L377.28 391.45 L377.28 388.84 L377.29 388.84 L377.29 386.23 L377.29 386.23 L377.29 383.61 L377.3 383.61 L377.3 381 L381.9 381" fill="none" stroke="#45a060" stroke-width="1.22" stroke-linejoin="miter"/>
<path d="M295.2 427.3 L298 427.3 L298 425.5 L301.6 425.5 L301.6 423.9 L304.5 423.9 L304.5 423.15 L307.4 423.15 L307.4 422.4 L309.63 422.4 L309.63 421.93 L311.87 421.93 L311.87 421.47 L314.1 421.47 L314.1 421 L316.5 421 L316.5 420.3 L318.9 420.3 L318.9 419.6" fill="none" stroke="#2f6a5c" stroke-width="1.45" stroke-linejoin="miter"/>
<line x1="343" y1="413.9" x2="343" y2="416.9" stroke="#3f4785" stroke-width="1.1"/>
<line x1="346" y1="413.9" x2="346" y2="416.9" stroke="#3f4785" stroke-width="1.1"/>
<line x1="356" y1="411.5" x2="356" y2="414.5" stroke="#3f4785" stroke-width="1.1"/>
<line x1="360" y1="411.5" x2="360" y2="414.5" stroke="#3f4785" stroke-width="1.1"/>
<line x1="363" y1="411.5" x2="363" y2="414.5" stroke="#3f4785" stroke-width="1.1"/>
<line x1="366" y1="411.5" x2="366" y2="414.5" stroke="#3f4785" stroke-width="1.1"/>
<line x1="369" y1="411.5" x2="369" y2="414.5" stroke="#3f4785" stroke-width="1.1"/>
<line x1="372" y1="411.5" x2="372" y2="414.5" stroke="#3f4785" stroke-width="1.1"/>
<line x1="376" y1="411.5" x2="376" y2="414.5" stroke="#3f4785" stroke-width="1.1"/>
<line x1="381" y1="411.5" x2="381" y2="414.5" stroke="#3f4785" stroke-width="1.1"/>
<line x1="385" y1="411.5" x2="385" y2="414.5" stroke="#3f4785" stroke-width="1.1"/>
<line x1="388" y1="411.5" x2="388" y2="414.5" stroke="#3f4785" stroke-width="1.1"/>
<line x1="392" y1="411.5" x2="392" y2="414.5" stroke="#3f4785" stroke-width="1.1"/>
<line x1="396" y1="411.5" x2="396" y2="414.5" stroke="#3f4785" stroke-width="1.1"/>
<line x1="405.1" y1="403.1" x2="405.1" y2="406.1" stroke="#3f4785" stroke-width="1.1"/>
<line x1="407.8" y1="403.1" x2="407.8" y2="406.1" stroke="#3f4785" stroke-width="1.1"/>
<line x1="412.5" y1="403.1" x2="412.5" y2="406.1" stroke="#3f4785" stroke-width="1.1"/>
<line x1="415.2" y1="403.1" x2="415.2" y2="406.1" stroke="#3f4785" stroke-width="1.1"/>
<line x1="419.2" y1="394.9" x2="419.2" y2="397.9" stroke="#3f4785" stroke-width="1.1"/>
<line x1="421.2" y1="394.9" x2="421.2" y2="397.9" stroke="#3f4785" stroke-width="1.1"/>
<line x1="423.3" y1="394.9" x2="423.3" y2="397.9" stroke="#3f4785" stroke-width="1.1"/>
<line x1="426.6" y1="394.9" x2="426.6" y2="397.9" stroke="#3f4785" stroke-width="1.1"/>
<line x1="435.4" y1="394.9" x2="435.4" y2="397.9" stroke="#3f4785" stroke-width="1.1"/>
<line x1="439.4" y1="394.9" x2="439.4" y2="397.9" stroke="#3f4785" stroke-width="1.1"/>
<line x1="442.8" y1="394.9" x2="442.8" y2="397.9" stroke="#3f4785" stroke-width="1.1"/>
<line x1="446.1" y1="394.9" x2="446.1" y2="397.9" stroke="#3f4785" stroke-width="1.1"/>
<line x1="449.5" y1="394.9" x2="449.5" y2="397.9" stroke="#3f4785" stroke-width="1.1"/>
<line x1="452.2" y1="394.9" x2="452.2" y2="397.9" stroke="#3f4785" stroke-width="1.1"/>
<line x1="340" y1="418.7" x2="340" y2="421.7" stroke="#45a060" stroke-width="1.1"/>
<line x1="344" y1="418.7" x2="344" y2="421.7" stroke="#45a060" stroke-width="1.1"/>
<line x1="347" y1="418.7" x2="347" y2="421.7" stroke="#45a060" stroke-width="1.1"/>
<line x1="350" y1="418.7" x2="350" y2="421.7" stroke="#45a060" stroke-width="1.1"/>
<line x1="354" y1="418.7" x2="354" y2="421.7" stroke="#45a060" stroke-width="1.1"/>
<line x1="358" y1="418.7" x2="358" y2="421.7" stroke="#45a060" stroke-width="1.1"/>
<line x1="362" y1="418.7" x2="362" y2="421.7" stroke="#45a060" stroke-width="1.1"/>
<line x1="365" y1="418.7" x2="365" y2="421.7" stroke="#45a060" stroke-width="1.1"/>
<line x1="368" y1="418.7" x2="368" y2="421.7" stroke="#45a060" stroke-width="1.1"/>
<line x1="371" y1="418.7" x2="371" y2="421.7" stroke="#45a060" stroke-width="1.1"/>
<line x1="374" y1="418.7" x2="374" y2="421.7" stroke="#45a060" stroke-width="1.1"/>
</g>
</svg>
</div></body></html>
